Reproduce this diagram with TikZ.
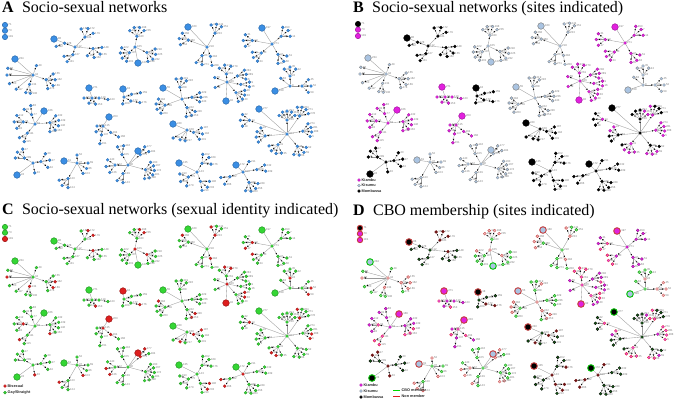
\documentclass[tikz,border=0pt]{standalone}
\usepackage{fontspec}
\setmainfont{Liberation Serif}
\setsansfont{Liberation Sans}
\usetikzlibrary{arrows.meta}
\definecolor{ablue}{RGB}{58,142,228}
\definecolor{kmag}{RGB}{226,32,222}
\definecolor{slb}{RGB}{170,196,226}
\definecolor{cgreen}{RGB}{52,214,52}
\definecolor{cred}{RGB}{222,30,30}
\definecolor{dgreen}{RGB}{120,226,120}
\definecolor{dpink}{RGB}{236,180,180}
\definecolor{dred}{RGB}{196,60,60}
\definecolor{mred}{RGB}{110,20,20}
\definecolor{mgrn}{RGB}{20,90,20}
\definecolor{lblgray}{RGB}{120,120,120}
\tikzset{
 small/.style={circle,inner sep=0pt,minimum size=3pt,line width=0.3pt},
 big/.style={circle,inner sep=0pt,minimum size=6.6pt,line width=0.5pt},
 lbl/.style={font=\sffamily\fontsize{2.8}{3}\selectfont,text=lblgray,inner sep=0.3pt},
 edge/.style={draw=gray!80,line width=0.35pt,-{Stealth[length=1.9pt,width=1.5pt,color=black]},shorten >=0.4pt},
 edge0/.style={draw=gray!80,line width=0.35pt},
 ttl/.style={anchor=base west,inner sep=0pt,font=\fontsize{16}{18}\selectfont},
 legtxt/.style={anchor=west,inner sep=0pt,font=\sffamily\bfseries\fontsize{3.8}{4}\selectfont,text=black!85},
 siteK/.style={fill=kmag,draw=kmag!70!black},
 siteS/.style={fill=slb,draw=gray},
 siteM/.style={fill=black,draw=black},
 dKY/.style={fill=kmag,draw=kmag!60!black},
 dKN/.style={fill=kmag!80!white,draw=cred},
 dSY/.style={fill=dgreen,draw=green!60!black},
 dSN/.style={fill=dpink,draw=dred},
 dMY/.style={fill=mgrn,draw=black},
 dMN/.style={fill=mred,draw=mred},
 ncol/.code 2 args={\edef\tmp{\noexpand\pgfkeysalso{ncol\pnl={#1}{#2}}}\tmp},
 bcol/.code n args={3}{\edef\tmp{\noexpand\pgfkeysalso{bcol\pnl={#1}{#2}{#3}}}\tmp},
 ncolA/.code 2 args={\pgfkeysalso{fill=ablue,draw=ablue!75!black}},
 ncolB/.code 2 args={\ifcase#1 \ifnum#2<5 \pgfkeysalso{siteK}\else\pgfkeysalso{siteM}\fi\or\pgfkeysalso{siteK}\or\pgfkeysalso{siteS}\or\pgfkeysalso{siteM}\fi},
 ncolC/.code 2 args={\ifnum#2<2 \pgfkeysalso{fill=cred,draw=cred!70!black}\else\pgfkeysalso{fill=cgreen,draw=cgreen!70!black}\fi},
 ncolD/.code 2 args={\ifcase#1 \ifnum#2<5 \def\dsite{K}\else\def\dsite{M}\fi\or\def\dsite{K}\or\def\dsite{S}\or\def\dsite{M}\fi
   \ifnum#2<4 \def\dmem{N}\else\def\dmem{Y}\fi
   \edef\tmp{\noexpand\pgfkeysalso{d\dsite\dmem}}\tmp},
 bcolA/.code n args={3}{\pgfkeysalso{fill=ablue,draw=ablue!75!black}},
 bcolB/.code n args={3}{\ifcase#1 \pgfkeysalso{siteM}\or\pgfkeysalso{siteK}\or\pgfkeysalso{siteS}\or\pgfkeysalso{siteM}\fi},
 bcolC/.code n args={3}{\ifnum#2=1 \pgfkeysalso{fill=cred,draw=cred!70!black}\else\pgfkeysalso{fill=cgreen,draw=cgreen!70!black}\fi},
 bcolD/.code n args={3}{\ifcase#1 \pgfkeysalso{fill=black}\or\pgfkeysalso{fill=kmag}\or\pgfkeysalso{fill=slb}\or\pgfkeysalso{fill=black}\fi
   \ifnum#3=1 \pgfkeysalso{draw=green!75!black,line width=0.9pt}\else\pgfkeysalso{draw=dred,line width=0.9pt}\fi},
}
\newcommand\comp[9]{%
 \pgfmathtruncatemacro\lnum{mod(#1*37+11,290)+1}%
 \node[big,bcol={#6}{#7}{#8},label={[lbl]0:\lnum}] (\pnl#1b) at (#4,#5) {};
 \pgfmathtruncatemacro\hh{mod(#1*7,10)}%
 \pgfmathtruncatemacro\lnum{mod(#1*53+5,290)+1}%
 \node[small,ncol={#6}{\hh},label={[lbl]0:\lnum}] (\pnl#1h) at (#2,#3) {};
 \draw[edge0] (\pnl#1b) -- (\pnl#1h);
 \foreach \bA/\bL/\bN/\bLA/\bSP [count=\k] in {#9} {
   \pgfmathsetmacro\sx{#2+\bL*cos(\bA)}%
   \pgfmathsetmacro\sy{#3+\bL*sin(\bA)}%
   \pgfmathtruncatemacro\hh{mod(#1*7+\k*13,10)}%
   \pgfmathtruncatemacro\lnum{mod(#1*53+\k*17+3,290)+1}%
   \node[small,ncol={#6}{\hh},label={[lbl]0:\lnum}] (\pnl#1s\k) at (\sx,\sy) {};
   \draw[edge] (\pnl#1h) -- (\pnl#1s\k);
   \ifnum\bN>0
    \foreach \j in {1,...,\bN} {
      \pgfmathsetmacro\ang{\bLA+(\j-(\bN+1)/2)*\bSP}%
      \pgfmathsetmacro\lx{\sx+9*cos(\ang)}%
      \pgfmathsetmacro\ly{\sy+9*sin(\ang)}%
      \pgfmathtruncatemacro\hh{mod(#1*7+\k*13+\j*29,10)}%
      \pgfmathtruncatemacro\lnum{mod(#1*53+\k*17+\j*7,290)+1}%
      \node[small,ncol={#6}{\hh},label={[lbl]0:\lnum}] (\pnl#1s\k-\j) at (\lx,\ly) {};
      \draw[edge] (\pnl#1s\k) -- (\pnl#1s\k-\j);
    }
   \fi
 }
}
\newcommand\allcomps{%
 \node[big,minimum size=5.4pt,bcol={3}{0}{0},label={[lbl]0:71}] (\pnl iso1) at (5,25) {};
 \node[big,minimum size=5.4pt,bcol={1}{0}{0},label={[lbl]0:73}] (\pnl iso2) at (5,30.7) {};
 \node[big,minimum size=5.4pt,bcol={1}{1}{0},label={[lbl]0:181}] (\pnl iso3) at (5,37) {};
 \comp{2}{75}{47}{54}{39}{3}{0}{0}{105/8/2/150/40, 5/18/4/60/45, -45/14/3/-70/45, 200/11/1/160/0}
 \comp{3}{135}{47}{138}{63}{2}{0}{1}{-80/11/4/-90/35, 135/8/4/160/35, 25/13/4/30/35}
 \comp{4}{207}{47}{188}{27}{2}{0}{0}{-60/16/3/-80/35, 200/20/3/190/40, 120/10/2/110/40, 70/10/1/80/0}
 \comp{5}{272}{44}{262}{28}{1}{0}{0}{-40/12/3/-40/40, 190/20/3/180/40, 140/14/3/150/35, 60/12/3/50/40}
 \comp{6}{33}{75}{15}{59}{2}{0}{1}{-70/10/0/0/0, 195/26/0/0/0, 180/26/0/0/0, 160/25/0/0/0, 140/22/0/0/0, 110/10/2/100/30, 20/14/4/20/40}
 \comp{7}{92}{98}{89}{88}{1}{0}{0}{180/8/0/0/0, 0/7/1/10/0, 120/6/0/0/0, 60/7/0/0/0}
 \comp{8}{124}{97}{123}{89}{3}{1}{0}{-20/8/1/-10/0, 30/8/1/10/0, 100/7/0/0/0}
 \comp{9}{182}{99}{163}{88}{2}{0}{0}{-100/12/3/-80/35, -10/10/3/0/30, 60/10/3/60/35, 160/18/4/170/35}
 \comp{10}{227}{82}{226}{101}{1}{1}{0}{-95/8/3/-100/40, -30/12/3/-10/30, 10/14/2/0/30, 50/14/4/30/30, 155/13/0/0/0, 200/13/0/0/0}
 \comp{11}{290}{86}{275}{91}{2}{0}{1}{-90/10/3/-90/40, 0/12/3/0/45, 220/12/0/0/0}
 \comp{12}{35}{124}{44}{111}{1}{0}{0}{-110/10/2/-120/50, 190/12/3/180/45, 130/12/2/130/40, -5/15/5/20/35}
 \comp{13}{103}{126}{109}{117}{1}{1}{0}{180/6/0/0/0, 100/9/1/100/0, 40/10/1/30/0, 140/9/0/0/0}
 \comp{14}{187}{130}{173}{124}{3}{0}{0}{20/7/3/10/40, 150/16/0/0/0, 100/11/0/0/0, 125/12/0/0/0}
 \comp{15}{287}{134}{259}{109}{0}{0}{1}{-90/14/5/-90/30, -55/22/4/-60/30, -10/16/4/-10/30, 175/22/4/190/35, 200/40/3/180/40, 130/14/4/120/35, 50/16/4/60/35}
 \comp{16}{33}{163}{17}{175}{3}{0}{1}{-150/10/3/-140/40, -10/8/3/-10/50, 80/10/0/0/0}
 \comp{17}{77}{163}{64}{161}{2}{0}{0}{-90/8/0/0/0, 0/11/0/0/0, 30/11/0/0/0, 60/12/0/0/0, 120/18/3/130/40}
 \comp{18}{128}{165}{138}{151}{2}{1}{0}{-120/12/2/-100/40, 180/13/3/170/45, 120/10/2/110/40, 15/18/6/20/30, -40/16/2/-40/40}
 \comp{19}{197}{172}{179}{163}{3}{0}{0}{-60/10/3/-40/45, 150/10/3/150/50, 70/10/3/40/40}
 \comp{20}{243}{172}{236}{165}{3}{0}{1}{-60/12/0/0/0, -10/14/2/-10/40, 60/12/4/60/35, 160/14/2/150/50}
}
\begin{document}
\begin{tikzpicture}[x=1pt,y=-1pt]
\useasboundingbox (0,0) rectangle (685,400);
% Panel A
\def\pnl{A}
\node[ttl] (tA) at (2,12) {\textbf{A}\hspace{0.52em}Socio-sexual networks};
\begin{scope}
\allcomps
\end{scope}
% Panel B
\def\pnl{B}
\node[ttl] (tB) at (353,12) {\textbf{B}\hspace{0.52em}Socio-sexual networks (sites indicated)};
\begin{scope}[shift={(353,-1)}]
\allcomps
\end{scope}
\node[small,siteK] (lgB1) at (359,180) {};
\node[small,siteS] (lgB2) at (359,185.5) {};
\node[small,siteM] (lgB3) at (359,191) {};
\node[legtxt] (lgB1t) at (361.5,180) {Kiambu};
\node[legtxt] (lgB2t) at (361.5,185.5) {Kisumu};
\node[legtxt] (lgB3t) at (361.5,191) {Mombassa};
% Panel C
\def\pnl{C}
\node[ttl] (tC) at (2,214.5) {\textbf{C}\hspace{0.52em}Socio-sexual networks (sexual identity indicated)};
\begin{scope}[shift={(0,202)}]
\allcomps
\end{scope}
\node[small,fill=cred,draw=cred!70!black] (lgC1) at (5,386) {};
\node[small,fill=cgreen,draw=cgreen!70!black] (lgC2) at (5,392.7) {};
\node[legtxt] (lgC1t) at (7.5,386) {Bisexual};
\node[legtxt] (lgC2t) at (7.5,392.7) {Gay/Straight};
% Panel D
\def\pnl{D}
\node[ttl] (tD) at (353,215.5) {\textbf{D}\hspace{0.52em}CBO membership (sites indicated)};
\begin{scope}[shift={(355,203)}]
\allcomps
\end{scope}
\node[small,siteK] (lgD1) at (361,385) {};
\node[small,siteS] (lgD2) at (361,391) {};
\node[small,siteM] (lgD3) at (361,397) {};
\node[legtxt] (lgD1t) at (363.5,385) {Kiambu};
\node[legtxt] (lgD2t) at (363.5,391) {Kisumu};
\node[legtxt] (lgD3t) at (363.5,397) {Mombassa};
\coordinate (gl1) at (393,390.5);
\coordinate (gl2) at (400,390.5);
\coordinate (rl1) at (393,396.5);
\coordinate (rl2) at (400,396.5);
\draw[green!85!black,line width=0.9pt] (gl1) -- (gl2);
\draw[cred,line width=0.9pt] (rl1) -- (rl2);
\node[legtxt] (lgD4t) at (401.5,390.5) {CBO member};
\node[legtxt] (lgD5t) at (401.5,396.5) {Non member};
\end{tikzpicture}
\end{document}
